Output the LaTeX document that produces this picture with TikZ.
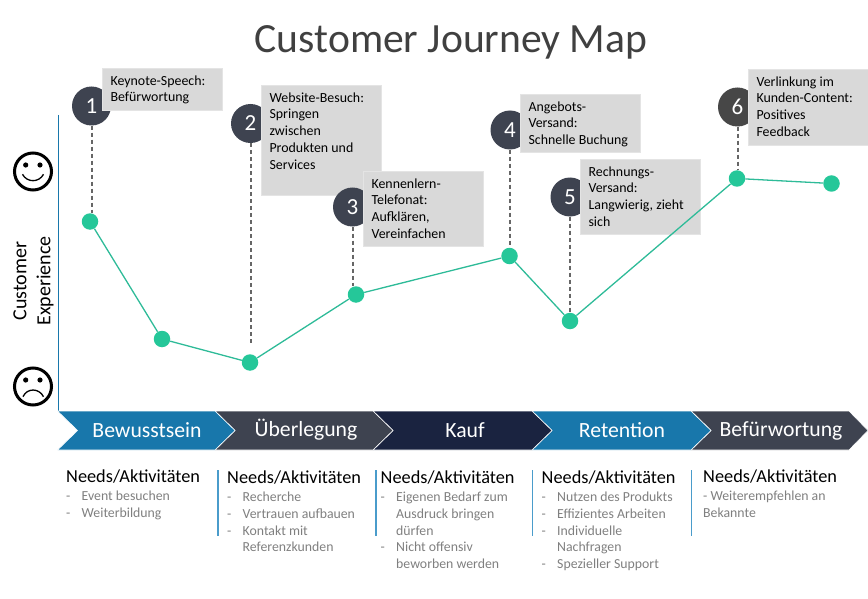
\documentclass[tikz,border=0pt]{standalone}
\usepackage{fontspec}
\setmainfont{Carlito}
\definecolor{cblue}{HTML}{1877AB}
\definecolor{cslate}{HTML}{3E4350}
\definecolor{cnavy}{HTML}{1A2340}
\definecolor{cgreen}{HTML}{25C799}
\definecolor{cline}{HTML}{2EBB98}
\definecolor{cbox}{HTML}{D9D9D9}
\definecolor{csep}{HTML}{4A9CCB}
\definecolor{ctitle}{HTML}{404040}
\definecolor{cgrey}{HTML}{7F7F7F}
\tikzset{
  numcircle/.style={circle,fill=cslate,text=white,minimum size=39pt,inner sep=0pt,font=\fontsize{23}{23}\selectfont},
  gbox/.style={fill=cbox,draw=cbox!70!white,line width=.5pt,inner sep=0pt,anchor=north west,text=black,font=\fontsize{13.9}{16.7}\selectfont},
  dot/.style={circle,fill=cgreen,minimum size=16.5pt,inner sep=0pt},
  curve/.style={draw=cline,line width=1.3pt},
  dropline/.style={draw=black!60,line width=1.2pt,dash pattern=on 4pt off 3pt},
  chev/.style={draw=white,line width=.6pt},
  chevtext/.style={text=white,font=\fontsize{21.7}{24}\selectfont},
  needs/.style={anchor=west,inner sep=0pt,font=\fontsize{18.3}{20}\selectfont},
  items/.style={anchor=north west,inner sep=0pt,align=left,text=cgrey,font=\fontsize{13.8}{16.8}\selectfont},
  sep/.style={draw=csep,line width=1.6pt},
  face/.style={draw=black,line width=3pt},
  mouth/.style={draw=black,line width=1.3pt},
}
\newcommand{\fs}{\rule{0pt}{17pt}}
\newcommand{\dd}{\makebox[15.5pt][l]{-}}
\newcommand{\ii}{\hspace*{15.5pt}}
\newcommand{\boxtext}[3]{\begin{minipage}[c][#1pt][t]{#2pt}\setlength{\parindent}{0pt}\raggedright\leftskip=8.3pt\fs #3\end{minipage}}
\begin{document}
\begin{tikzpicture}[x=1pt,y=-1pt]
\useasboundingbox (0,0) rectangle (868,599);
\node[text=ctitle,font=\fontsize{41.6}{44}\selectfont] (title) at (451,42.5) {Customer Journey Map};

% axis
\coordinate (axtop) at (58.5,115);
\coordinate (axbot) at (58.5,411);
\draw[draw=cblue,line width=1.4pt] (axtop) -- (axbot);
\node[rotate=90,align=center,font=\fontsize{20}{24}\selectfont] (ylabel) at (33.5,281) {Customer\\Experience};

% smileys
\draw[face] (33,171.5) circle (18.5);
\fill (25.7,165) circle (2.6) (40,165) circle (2.6);
\draw[mouth] (22.5,174.3) .. controls (27,182.8) and (39,182.8) .. (43.5,174.3);
\draw[face] (33,386.5) circle (18.5);
\fill (25.7,380) circle (2.6) (40,380) circle (2.6);
\draw[mouth] (23,396.7) .. controls (27,387.8) and (39,387.8) .. (43.5,396.7);

% circles and boxes
\node[numcircle] (c1) at (91.5,106) {1};
\node[gbox] (b1) at (102,68) {\boxtext{42}{120}{Keynote-Speech:\\Befürwortung}};
\node[numcircle] (c2) at (250.5,123.5) {2};
\node[gbox] (b2) at (261,85) {\boxtext{110}{120}{Website-Besuch:\\Springen\\zwischen\\Produkten und\\Services}};
\node[numcircle] (c3) at (352.5,207) {3};
\node[gbox] (b3) at (363,171) {\boxtext{75}{120}{Kennenlern-\\Telefonat:\\Aufklären,\\Vereinfachen}};
\node[numcircle] (c4) at (510,130) {4};
\node[gbox] (b4) at (520,94) {\boxtext{58}{120}{Angebots-\\Versand:\\Schnelle Buchung}};
\node[numcircle] (c5) at (570,197) {5};
\node[gbox] (b5) at (580,159) {\boxtext{75}{120}{Rechnungs-\\Versand:\\Langwierig, zieht\\sich}};
\node[numcircle,fill=black!72] (c6) at (737.5,107) {6};
\node[gbox] (b6) at (748,69) {\boxtext{76}{120}{Verlinkung im\\Kunden-Content:\\Positives\\Feedback}};

% curve points
\node[dot] (p1) at (90,221.5) {};
\node[dot] (p2) at (162,339) {};
\node[dot] (p3) at (250,362.5) {};
\node[dot] (p4) at (356,294.5) {};
\node[dot] (p5) at (509.5,256) {};
\node[dot] (p6) at (570,321) {};
\node[dot] (p7) at (737,178.5) {};
\node[dot] (p8) at (831.5,183.5) {};
\draw[curve] (p1)--(p2);
\draw[curve] (p2)--(p3);
\draw[curve] (p3)--(p4);
\draw[curve] (p4)--(p5);
\draw[curve] (p5)--(p6);
\draw[curve] (p6)--(p7);
\draw[curve] (p7)--(p8);

% drop lines
\draw[dropline] ([xshift=.5pt]c1.south) -- ([xshift=.5pt]c1.south |- p1.north);
\draw[dropline,shorten >=11pt] ([xshift=.5pt]c2.south) -- ([xshift=.5pt]c2.south |- p3.north);
\draw[dropline] ([xshift=.5pt]c3.south) -- ([xshift=.5pt]c3.south |- p4.north);
\draw[dropline] (c4.south) -- (c4.south |- p5.north);
\draw[dropline] (c5.south) -- (c5.south |- p6.north);
\draw[dropline] ([xshift=.5pt]c6.south) -- ([xshift=.5pt]c6.south |- p7.north);

% chevrons
\fill[cslate,chev] (691,411) -- (849,411) -- (868,430.5) -- (849,450) -- (691,450) -- (711,430.5) -- cycle;
\fill[cblue,chev] (532,411) -- (691,411) -- (711,430.5) -- (691,450) -- (532,450) -- (552,430.5) -- cycle;
\fill[cnavy,chev] (373,411) -- (532,411) -- (552,430.5) -- (532,450) -- (373,450) -- (393,430.5) -- cycle;
\fill[cslate,chev] (215,411) -- (373,411) -- (393,430.5) -- (373,450) -- (215,450) -- (235,430.5) -- cycle;
\fill[cblue,chev] (57.5,411) -- (215,411) -- (235,430.5) -- (215,450) -- (57.5,450) -- (77.5,430.5) -- cycle;
\node[chevtext] (s1) at (147,430.5) {Bewusstsein};
\node[chevtext] (s2) at (306,430) {Überlegung};
\node[chevtext] (s3) at (465,430.5) {Kauf};
\node[chevtext] (s4) at (622,430) {Retention};
\node[chevtext] (s5) at (781,431) {Befürwortung};

% separators
\coordinate (t1) at (217.8,470); \coordinate (u1) at (217.8,535.5);
\coordinate (t2) at (376,470); \coordinate (u2) at (376,535.5);
\coordinate (t3) at (532.5,470); \coordinate (u3) at (532.5,535.5);
\coordinate (t4) at (691.5,470); \coordinate (u4) at (691.5,535.5);
\draw[sep] (t1)--(u1);
\draw[sep] (t2)--(u2);
\draw[sep] (t3)--(u3);
\draw[sep] (t4)--(u4);

% needs
\node[needs] (n1) at (66,477) {Needs/Aktivitäten};
\node[needs] (n2) at (227,478) {Needs/Aktivitäten};
\node[needs] (n3) at (380.5,478) {Needs/Aktivitäten};
\node[needs] (n4) at (541.5,478) {Needs/Aktivitäten};
\node[needs] (n5) at (703,477) {Needs/Aktivitäten};
\node[items] (l1) at (66,490.7) {\dd Event besuchen\\\dd Weiterbildung};
\node[items] (l2) at (227,491.7) {\dd Recherche\\\dd Vertrauen aufbauen\\\dd Kontakt mit\\\ii Referenzkunden};
\node[items] (l3) at (380.5,491.7) {\dd Eigenen Bedarf zum\\\ii Ausdruck bringen\\\ii dürfen\\\dd Nicht offensiv\\\ii beworben werden};
\node[items] (l4) at (541.5,491.7) {\dd Nutzen des Produkts\\\dd Effizientes Arbeiten\\\dd Individuelle\\\ii Nachfragen\\\dd Spezieller Support};
\node[items] (l5) at (703,490.7) {- Weiterempfehlen an\\Bekannte};
\end{tikzpicture}
\end{document}
